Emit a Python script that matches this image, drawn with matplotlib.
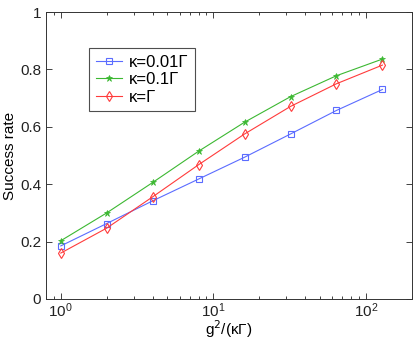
import matplotlib
matplotlib.use("Agg")
import matplotlib.pyplot as plt
from matplotlib.ticker import LogLocator, NullFormatter

plt.rcParams['font.family'] = ['Liberation Sans', 'DejaVu Sans']

x = [1, 2, 4, 8, 16, 32, 64, 128]
blue = [0.185, 0.263, 0.342, 0.418, 0.494, 0.575, 0.657, 0.730]
green = [0.203, 0.300, 0.406, 0.515, 0.616, 0.705, 0.778, 0.836]
red = [0.160, 0.247, 0.356, 0.468, 0.575, 0.671, 0.750, 0.815]
labels = ['κ=0.01Γ', 'κ=0.1Γ', 'κ=Γ']
yticks = [0, 0.2, 0.4, 0.6, 0.8, 1]
yticklabels = ['0', '0.2', '0.4', '0.6', '0.8', '1']

fig = plt.figure(figsize=(4.15, 3.39), dpi=100)
ax = fig.add_axes([46/415, 1-299/339, (412-46)/415, (299-12)/339])

ax.plot(x, blue, color='#5b6cff', lw=0.8, marker='s', ms=4, mfc='none', mec='#5b6cff', mew=0.8, label=labels[0])
ax.plot(x, green, color='#3cb832', lw=0.8, marker='*', ms=5, mfc='#3cb832', mec='#3cb832', mew=0.5, label=labels[1])
ax.plot(x, red, color='#ff3b3b', lw=0.8, marker='d', ms=5.5, mfc='none', mec='#ff3b3b', mew=0.8, label=labels[2])

ax.set_xscale('log')
ax.set_xlim(0.8, 200)
ax.set_ylim(0, 1)
ax.set_yticks(yticks)
ax.set_yticklabels(yticklabels)
ax.xaxis.set_minor_locator(LogLocator(base=10, subs=range(2, 10)))
ax.xaxis.set_minor_formatter(NullFormatter())
ax.tick_params(which='both', direction='in', top=True, right=True, labelsize=11, colors='#222222')
ax.tick_params(axis='x', which='major', pad=2)
ax.tick_params(which='major', length=4, width=0.6)
ax.tick_params(which='minor', length=2, width=0.6)
for s in ax.spines.values():
    s.set_linewidth(0.7)
    s.set_color('#333333')

ax.set_xlabel('g$^2$/(κΓ)', fontsize=11)
ax.xaxis.set_label_coords((229-46)/366, -(335-299)/287, transform=ax.transAxes)
ax.xaxis.label.set_va('baseline')
ax.set_ylabel('Success rate', fontsize=11, labelpad=2)

leg = ax.legend(loc='upper left', bbox_to_anchor=((89-46)/366, (299-48)/287), fontsize=12,
                frameon=True, fancybox=False, edgecolor='#222222', borderpad=0.4,
                handlelength=1.6, handletextpad=0.4, labelspacing=0.15, borderaxespad=0)
leg.get_frame().set_linewidth(0.8)

fig.savefig('out.png', dpi=100)
